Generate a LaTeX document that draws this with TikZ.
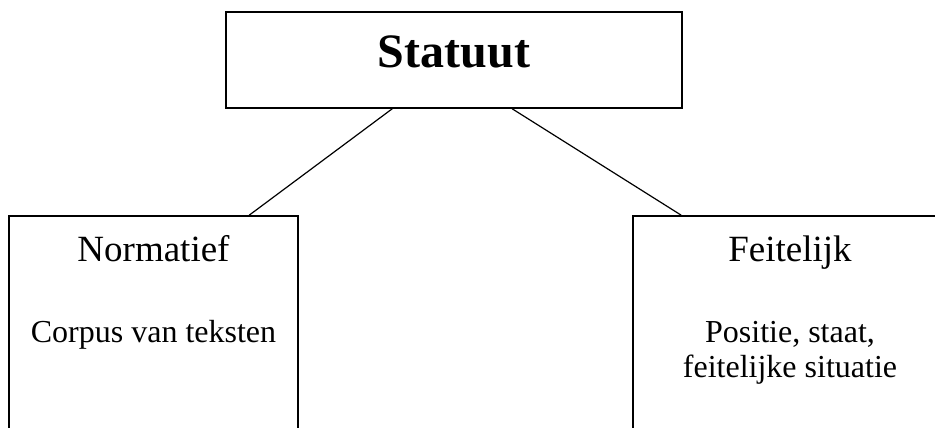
\documentclass[tikz,border=0pt]{standalone}
\usepackage{fontspec}
\setmainfont{Liberation Serif}
\begin{document}
\begin{tikzpicture}[x=1pt,y=1pt,
  box/.style={draw,line width=1.6pt,rectangle,inner sep=0pt,fill=white},
  link/.style={line width=1.2pt},
  title/.style={anchor=base,inner sep=0pt,font=\fontsize{48}{52}\selectfont\bfseries},
  head/.style={anchor=base,inner sep=0pt,font=\fontsize{37}{40}\selectfont},
  body/.style={anchor=base,inner sep=0pt,font=\fontsize{32}{35}\selectfont}]
  \useasboundingbox (0,0) rectangle (935,428);
  \clip (0,0) rectangle (935,428);
  % boxes
  \node[box,minimum width=456pt,minimum height=96pt] (top) at (454,368) {};
  \node[box,minimum width=289pt,minimum height=224pt] (left) at (153.5,100) {};
  \node[box,minimum width=314pt,minimum height=224pt] (right) at (790,100) {};
  % connectors
  \draw[link] ([xshift=167pt]top.south west) -- ([xshift=241pt]left.north west);
  \draw[link] ([xshift=287pt]top.south west) -- ([xshift=49pt]right.north west);
  % texts
  \node[title] (t) at (454,360) {Statuut};
  \node[head] (n) at (153.5,166) {Normatief};
  \node[body] (nb) at (153.5,85) {Corpus van teksten};
  \node[head] (f) at (790,166) {Feitelijk};
  \node[body] (fb1) at (790,85) {Positie, staat,};
  \node[body] (fb2) at (790,50) {feitelijke situatie};
\end{tikzpicture}
\end{document}
